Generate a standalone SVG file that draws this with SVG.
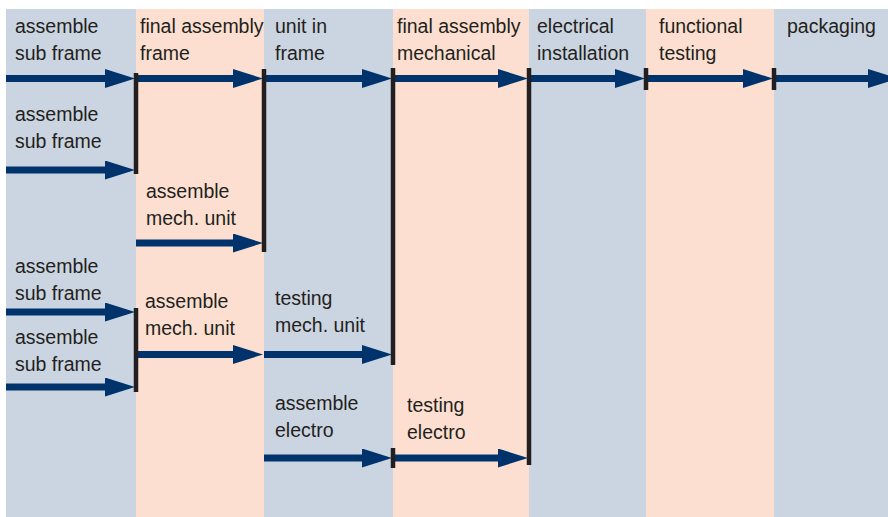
<svg xmlns="http://www.w3.org/2000/svg" width="888" height="517" viewBox="0 0 888 517">
  <style>
    .lane-b { fill: #CBD5E1; }
    .lane-o { fill: #FCDFD0; }
    .flow { stroke: #00336B; stroke-width: 7; fill: none; marker-end: url(#head); }
    .bar { stroke: #231F20; stroke-width: 4.5; fill: none; }
    text { font-family: "Liberation Sans", Arial, sans-serif; font-size: 19.5px; fill: #231F20; }
  </style>
  <defs>
    <marker id="head" viewBox="0 0 30 19" markerWidth="30" markerHeight="19" refX="1" refY="9.5" markerUnits="userSpaceOnUse" orient="auto">
      <path d="M0,0 L30,9.5 L0,19 Z" fill="#00336B"/>
    </marker>
  </defs>

  <rect width="888" height="517" fill="#FFFFFF"/>

  <!-- stage lanes -->
  <g id="lanes">
    <rect class="lane-b" x="6" y="9" width="130" height="508"/>
    <rect class="lane-o" x="136" y="9" width="128" height="508"/>
    <rect class="lane-b" x="264" y="9" width="129" height="508"/>
    <rect class="lane-o" x="393" y="9" width="136" height="508"/>
    <rect class="lane-b" x="529" y="9" width="117" height="508"/>
    <rect class="lane-o" x="646" y="9" width="128" height="508"/>
    <rect class="lane-b" x="774" y="9" width="114" height="508"/>
  </g>

  <!-- process steps -->
  <g id="sub-frame-1"><text x="15" y="33">assemble</text><text x="15" y="60">sub frame</text></g>
  <g id="final-assembly-frame"><text x="140" y="33">final assembly</text><text x="140" y="60">frame</text></g>
  <g id="unit-in-frame"><text x="275" y="33">unit in</text><text x="275" y="60">frame</text></g>
  <g id="final-assembly-mechanical"><text x="397" y="33">final assembly</text><text x="397" y="60">mechanical</text></g>
  <g id="electrical-installation"><text x="537" y="33">electrical</text><text x="537" y="60">installation</text></g>
  <g id="functional-testing"><text x="659" y="33">functional</text><text x="659" y="60">testing</text></g>
  <g id="packaging"><text x="787" y="33">packaging</text></g>
  <g id="sub-frame-2"><text x="15" y="121">assemble</text><text x="15" y="148">sub frame</text></g>
  <g id="mech-unit-1"><text x="146" y="198">assemble</text><text x="146" y="225">mech. unit</text></g>
  <g id="sub-frame-3"><text x="15" y="273">assemble</text><text x="15" y="300">sub frame</text></g>
  <g id="mech-unit-2"><text x="145" y="308">assemble</text><text x="145" y="335">mech. unit</text></g>
  <g id="sub-frame-4"><text x="15" y="344">assemble</text><text x="15" y="371">sub frame</text></g>
  <g id="testing-mech-unit"><text x="275" y="305">testing</text><text x="275" y="332">mech. unit</text></g>
  <g id="assemble-electro"><text x="275" y="410">assemble</text><text x="275" y="437">electro</text></g>
  <g id="testing-electro"><text x="407" y="412">testing</text><text x="407" y="439">electro</text></g>

  <!-- flows and junction bars -->
  <g id="connectors">
    <line class="flow" x1="6" y1="78.5" x2="106" y2="78.5"/>
    <line class="flow" x1="136" y1="78.5" x2="234" y2="78.5"/>
    <line class="flow" x1="264" y1="78.5" x2="363" y2="78.5"/>
    <line class="flow" x1="393" y1="78.5" x2="499" y2="78.5"/>
    <line class="flow" x1="529" y1="78.5" x2="616" y2="78.5"/>
    <line class="flow" x1="646" y1="78.5" x2="744" y2="78.5"/>
    <line class="flow" x1="774" y1="78.5" x2="869" y2="78.5"/>

    <line class="flow" x1="6" y1="170" x2="106" y2="170"/>
    <line class="flow" x1="136" y1="243" x2="234" y2="243"/>
    <line class="flow" x1="6" y1="312" x2="106" y2="312"/>
    <line class="flow" x1="6" y1="387" x2="106" y2="387"/>
    <line class="flow" x1="136" y1="354.5" x2="234" y2="354.5"/>
    <line class="flow" x1="264" y1="354.5" x2="363" y2="354.5"/>
    <line class="flow" x1="264" y1="458" x2="363" y2="458"/>
    <line class="flow" x1="393" y1="458" x2="499" y2="458"/>

    <line class="bar" x1="136" y1="73" x2="136" y2="174"/>
    <line class="bar" x1="264" y1="69" x2="264" y2="252"/>
    <line class="bar" x1="393" y1="68" x2="393" y2="365"/>
    <line class="bar" x1="529" y1="68" x2="529" y2="465"/>
    <line class="bar" x1="646" y1="68" x2="646" y2="90"/>
    <line class="bar" x1="774" y1="68" x2="774" y2="90"/>
    <line class="bar" x1="136" y1="308" x2="136" y2="392"/>
    <line class="bar" x1="393" y1="448" x2="393" y2="468"/>
  </g>
</svg>
